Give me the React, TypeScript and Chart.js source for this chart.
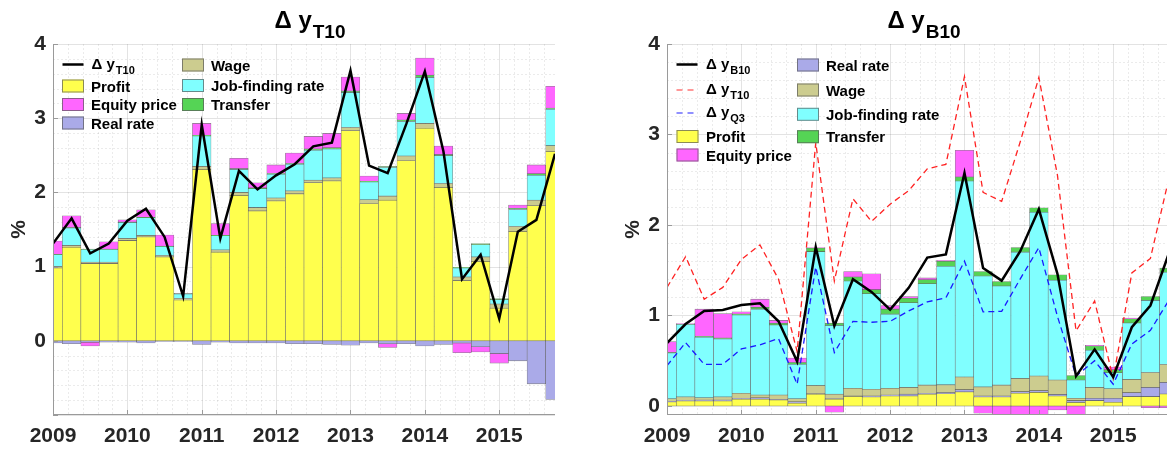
import React, { useEffect, useRef } from 'react';
import { Chart, registerables } from 'chart.js';

Chart.register(...registerables);

// ---------- data ----------
const quarters = [
  2009.0, 2009.25, 2009.5, 2009.75, 2010.0, 2010.25, 2010.5, 2010.75,
  2011.0, 2011.25, 2011.5, 2011.75, 2012.0, 2012.25, 2012.5, 2012.75,
  2013.0, 2013.25, 2013.5, 2013.75, 2014.0, 2014.25, 2014.5, 2014.75,
  2015.0, 2015.25, 2015.5, 2015.75,
];
const yearTicks = [2009, 2010, 2011, 2012, 2013, 2014, 2015];

// Left panel: Δy T10
const lineT10 = [1.31, 1.65, 1.18, 1.31, 1.62, 1.78, 1.40, 0.60, 2.91, 1.38, 2.29, 2.04, 2.23, 2.38, 2.62, 2.67, 3.64, 2.36, 2.26, 2.92, 3.63, 2.55, 0.83, 1.16, 0.30, 1.47, 1.63, 2.52];
const profitT = [0.98, 1.26, 1.04, 1.04, 1.35, 1.40, 1.13, 0.55, 2.31, 1.195, 1.96, 1.75, 1.885, 1.98, 2.13, 2.155, 2.83, 1.85, 1.895, 2.43, 2.865, 2.065, 0.81, 1.07, 0.44, 1.475, 1.82, 2.55];
const realT = [-0.03, -0.04, -0.02, -0.02, -0.02, -0.03, -0.01, -0.01, -0.05, -0.02, -0.03, -0.03, -0.03, -0.04, -0.04, -0.05, -0.06, -0.03, -0.04, -0.04, -0.07, -0.05, -0.03, -0.08, -0.17, -0.27, -0.58, -0.79];
const wageT = [0.02, 0.025, 0.02, 0.02, 0.03, 0.02, 0.02, 0.02, 0.04, 0.03, 0.04, 0.045, 0.04, 0.04, 0.035, 0.04, 0.045, 0.05, 0.055, 0.06, 0.065, 0.055, 0.05, 0.06, 0.055, 0.065, 0.075, 0.08];
const jfT = [0.16, 0.235, 0.17, 0.17, 0.215, 0.24, 0.12, 0.06, 0.41, 0.19, 0.31, 0.255, 0.32, 0.36, 0.405, 0.39, 0.47, 0.24, 0.385, 0.465, 0.62, 0.375, 0.12, 0.165, 0.06, 0.23, 0.335, 0.49];
const transferT = [0.005, 0.005, 0.005, 0.005, 0.005, 0.005, 0.005, 0.005, 0.01, 0.005, 0.01, 0.01, 0.01, 0.01, 0.015, 0.015, 0.02, 0.01, 0.015, 0.02, 0.03, 0.015, 0.01, 0.015, 0.015, 0.015, 0.02, 0.015];
const equityT = [0.18, 0.16, -0.05, 0.10, 0.03, 0.10, 0.15, 0.005, 0.16, 0.16, 0.14, 0.07, 0.115, 0.14, 0.17, 0.195, 0.19, 0.07, -0.05, 0.09, 0.23, 0.115, -0.13, -0.07, -0.13, 0.045, 0.12, 0.295];

// Right panel: Δy B10
const lineB10 = [0.695, 0.905, 1.05, 1.06, 1.115, 1.135, 0.935, 0.49, 1.755, 0.885, 1.40, 1.26, 1.065, 1.305, 1.64, 1.675, 2.575, 1.525, 1.385, 1.71, 2.175, 1.46, 0.33, 0.625, 0.32, 0.87, 1.11, 1.69];
const lineQ3 = [0.445, 0.70, 0.46, 0.46, 0.63, 0.675, 0.745, 0.24, 1.535, 0.59, 0.935, 0.925, 0.935, 1.05, 1.15, 1.195, 1.60, 1.04, 1.045, 1.405, 1.75, 0.99, 0.33, 0.50, 0.24, 0.685, 0.835, 1.17];
const profitB = [0.045, 0.055, 0.055, 0.055, 0.075, 0.075, 0.065, 0.03, 0.13, 0.075, 0.105, 0.10, 0.11, 0.11, 0.13, 0.135, 0.155, 0.10, 0.10, 0.14, 0.15, 0.11, 0.037, 0.059, 0.04, 0.103, 0.103, 0.132];
const realB = [0.005, 0.005, 0.01, 0.01, 0.01, 0.015, 0.005, 0.015, 0.005, 0.005, 0.005, 0.01, 0.01, 0.02, 0.01, 0.013, 0.025, 0.01, 0.01, 0.018, 0.019, 0.018, 0.022, 0.025, 0.044, 0.044, 0.102, 0.128];
const wageB = [0.03, 0.04, 0.025, 0.035, 0.055, 0.03, 0.05, 0.035, 0.09, 0.05, 0.085, 0.075, 0.075, 0.075, 0.09, 0.085, 0.14, 0.10, 0.12, 0.146, 0.161, 0.158, 0.025, 0.121, 0.106, 0.146, 0.165, 0.198];
const jfB = [0.505, 0.80, 0.67, 0.64, 0.865, 0.95, 0.775, 0.38, 1.48, 0.76, 1.185, 1.055, 0.82, 0.935, 1.12, 1.31, 2.165, 1.225, 1.095, 1.396, 1.81, 1.104, 0.202, 0.411, 0.177, 0.624, 0.796, 1.02];
const transferB = [0.005, 0.005, 0.01, 0.01, 0.01, 0.02, 0.02, 0.02, 0.04, 0.025, 0.045, 0.045, 0.055, 0.05, 0.045, 0.055, 0.045, 0.05, 0.05, 0.05, 0.05, 0.06, 0.051, 0.048, 0.033, 0.047, 0.044, 0.045];
const equityB = [0.12, 0.005, 0.30, 0.27, 0.025, 0.09, 0.03, 0.05, 0.005, -0.07, 0.06, 0.175, 0.04, 0.02, 0.02, 0.01, 0.295, -0.08, -0.13, -0.14, -0.14, -0.045, -0.12, 0.005, 0.03, 0.007, -0.02, -0.02];

// ---------- styles ----------
const FONT = '"Liberation Sans", Arial, Helvetica, sans-serif';
const C_PROFIT = '#FFFF4D';
const C_EQUITY = '#FF66FF';
const C_REAL = '#AAAAE8';
const C_WAGE = '#CCCC8F';
const C_JF = '#80FFFF';
const C_TRANSFER = '#55D455';
const C_EDGE = 'rgba(60,60,60,0.65)';

type LineSpec = { label: string; values: number[]; color: string; width: number; dash?: number[] };
type BarSpec = { label: string; values: number[]; color: string };
type LegendItem = { kind: 'line' | 'box'; color: string; dash?: number[]; width?: number; main: string; sub?: string; x: number; y: number; tx: number };

type PanelCfg = {
  titleSub: string;
  yMin: number;
  yMax: number;
  lines: LineSpec[];
  bars: BarSpec[];
  legend: LegendItem[];
};

function decorPlugin(cfg: PanelCfg) {
  return {
    id: 'decor',
    beforeDatasetsDraw(chart: any) {
      const ctx = chart.ctx;
      const a = chart.chartArea;
      const xs = chart.scales.x;
      const ys = chart.scales.y;
      ctx.save();
      for (let k = 0; k <= 40; k++) {
        const v = 2009 + k * 0.2;
        if (v > 2015.76) break;
        const px = Math.round(xs.getPixelForValue(v)) + 0.5;
        const major = Math.abs(v - Math.round(v)) < 1e-6;
        ctx.beginPath();
        ctx.strokeStyle = major ? 'rgba(0,0,0,0.11)' : 'rgba(0,0,0,0.08)';
        ctx.setLineDash(major ? [] : [2, 2]);
        ctx.lineWidth = 1;
        ctx.moveTo(px, a.top);
        ctx.lineTo(px, a.bottom);
        ctx.stroke();
      }
      const start = Math.ceil(cfg.yMin / 0.2 - 1e-6);
      const end = Math.floor(cfg.yMax / 0.2 + 1e-6);
      for (let k = start; k <= end; k++) {
        const v = k * 0.2;
        const py = Math.round(ys.getPixelForValue(v)) + 0.5;
        const major = k % 5 === 0;
        ctx.beginPath();
        ctx.strokeStyle = major ? 'rgba(0,0,0,0.11)' : 'rgba(0,0,0,0.08)';
        ctx.setLineDash(major ? [] : [2, 2]);
        ctx.moveTo(a.left, py);
        ctx.lineTo(a.right, py);
        ctx.stroke();
      }
      ctx.restore();
    },
    afterDatasetsDraw(chart: any) {
      const ctx = chart.ctx;
      const a = chart.chartArea;
      const xs = chart.scales.x;
      const ys = chart.scales.y;
      ctx.save();
      ctx.setLineDash([]);
      ctx.strokeStyle = '#9a9a9a';
      ctx.lineWidth = 1;
      ctx.beginPath();
      ctx.moveTo(Math.round(a.left) + 0.5, a.top);
      ctx.lineTo(Math.round(a.left) + 0.5, a.bottom);
      ctx.moveTo(a.left, Math.round(a.bottom) - 0.5);
      ctx.lineTo(a.right, Math.round(a.bottom) - 0.5);
      ctx.stroke();
      ctx.beginPath();
      for (const yr of yearTicks) {
        const px = Math.round(xs.getPixelForValue(yr)) + 0.5;
        ctx.moveTo(px, a.bottom);
        ctx.lineTo(px, a.bottom - 5);
      }
      for (let v = Math.ceil(cfg.yMin); v <= cfg.yMax; v++) {
        const py = Math.round(ys.getPixelForValue(v)) + 0.5;
        ctx.moveTo(a.left, py);
        ctx.lineTo(a.left + 5, py);
      }
      ctx.stroke();

      for (const it of cfg.legend) {
        if (it.kind === 'line') {
          ctx.beginPath();
          ctx.strokeStyle = it.color;
          ctx.lineWidth = it.width || 2;
          ctx.setLineDash(it.dash || []);
          ctx.moveTo(it.x, it.y);
          ctx.lineTo(it.x + 21, it.y);
          ctx.stroke();
          ctx.setLineDash([]);
        } else {
          ctx.fillStyle = it.color;
          ctx.fillRect(it.x, it.y - 6.5, 22, 13);
          ctx.strokeStyle = 'rgba(90,90,90,0.7)';
          ctx.lineWidth = 1;
          ctx.strokeRect(it.x + 0.5, it.y - 6, 21, 12);
        }
        ctx.fillStyle = '#000';
        ctx.textAlign = 'left';
        ctx.textBaseline = 'alphabetic';
        ctx.font = `bold 15px ${FONT}`;
        if (it.sub) {
          ctx.fillText(it.main, it.tx, it.y + 4);
          const w = ctx.measureText(it.main).width;
          ctx.font = `bold 11px ${FONT}`;
          ctx.fillText(it.sub, it.tx + w + 1, it.y + 9);
        } else {
          ctx.fillText(it.main, it.tx, it.y + 5.5);
        }
      }
      ctx.restore();
    },
    afterDraw(chart: any) {
      const ctx = chart.ctx;
      const a = chart.chartArea;
      ctx.save();
      const main = 'Δ y';
      const mainFont = `bold 24px ${FONT}`;
      const subFont = `bold 19px ${FONT}`;
      ctx.font = mainFont;
      const w1 = ctx.measureText(main).width;
      ctx.font = subFont;
      const w2 = ctx.measureText(cfg.titleSub).width;
      const cx = (a.left + a.right) / 2 + 6;
      const x0 = cx - (w1 + w2 + 1) / 2;
      ctx.fillStyle = '#000';
      ctx.textAlign = 'left';
      ctx.textBaseline = 'alphabetic';
      ctx.font = mainFont;
      ctx.fillText(main, x0, 28);
      ctx.font = subFont;
      ctx.fillText(cfg.titleSub, x0 + w1 + 1, 38);
      ctx.translate(19, (a.top + a.bottom) / 2);
      ctx.rotate(-Math.PI / 2);
      ctx.textAlign = 'center';
      ctx.textBaseline = 'middle';
      ctx.fillStyle = '#262626';
      ctx.font = `bold 21px ${FONT}`;
      ctx.fillText('%', 0, 0);
      ctx.restore();
    },
  };
}

function makeConfig(cfg: PanelCfg): any {
  const datasets: any[] = [
    ...cfg.lines.map((l) => ({
      type: 'line',
      label: l.label,
      data: l.values.map((v, i) => ({ x: quarters[i], y: v })),
      borderColor: l.color,
      borderWidth: l.width,
      borderDash: l.dash || [],
      pointRadius: 0,
      tension: 0,
      fill: false,
      yAxisID: 'yl',
      order: 0,
    })),
    ...cfg.bars.map((b) => ({
      type: 'bar',
      label: b.label,
      data: b.values.map((v, i) => ({ x: quarters[i], y: v })),
      backgroundColor: b.color,
      borderColor: C_EDGE,
      borderWidth: 0.6,
      borderSkipped: false,
      barPercentage: 1,
      categoryPercentage: 1,
      clip: 0,
      yAxisID: 'y',
      order: 1,
    })),
  ];
  const tickFont = { family: FONT, size: 21, weight: 'bold' };
  return {
    type: 'bar',
    data: { datasets },
    options: {
      animation: false,
      responsive: false,
      maintainAspectRatio: false,
      events: [],
      layout: { padding: { left: 0, right: 59, top: 44, bottom: 0 } },
      plugins: { legend: { display: false }, title: { display: false }, tooltip: { enabled: false } },
      scales: {
        x: {
          type: 'linear',
          min: 2009,
          max: 2015.75,
          offset: false,
          stacked: true,
          grid: { display: false, drawTicks: false },
          border: { display: false },
          ticks: {
            stepSize: 1,
            includeBounds: false,
            autoSkip: false,
            maxRotation: 0,
            minRotation: 0,
            padding: 9,
            color: '#262626',
            font: tickFont,
            callback: (v: number) => (Number.isInteger(v) ? String(v) : ''),
          },
          afterFit: (s: any) => {
            s.height = 34;
          },
        },
        y: {
          type: 'linear',
          min: cfg.yMin,
          max: cfg.yMax,
          stacked: true,
          grid: { display: false, drawTicks: false },
          border: { display: false },
          ticks: {
            stepSize: 1,
            includeBounds: false,
            padding: 7,
            color: '#262626',
            font: tickFont,
            callback: (v: number) => (Number.isInteger(v) && v >= 0 ? String(v) : ''),
          },
          afterFit: (s: any) => {
            s.width = 53;
          },
        },
        yl: { type: 'linear', display: false, min: cfg.yMin, max: cfg.yMax, stacked: false },
      },
    },
    plugins: [decorPlugin(cfg)],
  };
}

const leftCfg: PanelCfg = {
  titleSub: 'T10',
  yMin: -1,
  yMax: 4,
  lines: [{ label: 'Δ y T10', values: lineT10, color: '#000000', width: 2.5 }],
  bars: [
    { label: 'Profit', values: profitT, color: C_PROFIT },
    { label: 'Real rate', values: realT, color: C_REAL },
    { label: 'Wage', values: wageT, color: C_WAGE },
    { label: 'Job-finding rate', values: jfT, color: C_JF },
    { label: 'Transfer', values: transferT, color: C_TRANSFER },
    { label: 'Equity price', values: equityT, color: C_EQUITY },
  ],
  legend: [
    { kind: 'line', color: '#000', width: 2.5, main: 'Δ y', sub: 'T10', x: 62.5, y: 64.5, tx: 91.5 },
    { kind: 'box', color: C_PROFIT, main: 'Profit', x: 62, y: 86, tx: 91 },
    { kind: 'box', color: C_EQUITY, main: 'Equity price', x: 62, y: 104.5, tx: 91 },
    { kind: 'box', color: C_REAL, main: 'Real rate', x: 62, y: 123, tx: 91 },
    { kind: 'box', color: C_WAGE, main: 'Wage', x: 182, y: 65, tx: 211 },
    { kind: 'box', color: C_JF, main: 'Job-finding rate', x: 182, y: 85.5, tx: 211 },
    { kind: 'box', color: C_TRANSFER, main: 'Transfer', x: 182, y: 104.5, tx: 211 },
  ],
};

const rightCfg: PanelCfg = {
  titleSub: 'B10',
  yMin: -0.1,
  yMax: 4,
  lines: [
    { label: 'Δ y B10', values: lineB10, color: '#000000', width: 2.5 },
    { label: 'Δ y Q3', values: lineQ3, color: '#1a1aff', width: 1.3, dash: [6, 4] },
    { label: 'Δ y T10', values: lineT10, color: '#ff2222', width: 1.3, dash: [6, 4] },
  ],
  bars: [
    { label: 'Profit', values: profitB, color: C_PROFIT },
    { label: 'Real rate', values: realB, color: C_REAL },
    { label: 'Wage', values: wageB, color: C_WAGE },
    { label: 'Job-finding rate', values: jfB, color: C_JF },
    { label: 'Transfer', values: transferB, color: C_TRANSFER },
    { label: 'Equity price', values: equityB, color: C_EQUITY },
  ],
  legend: [
    { kind: 'line', color: '#000', width: 2.5, main: 'Δ y', sub: 'B10', x: 62.5, y: 64.5, tx: 92 },
    { kind: 'line', color: '#ff3333', width: 1.2, dash: [6, 5], main: 'Δ y', sub: 'T10', x: 62.5, y: 90, tx: 92 },
    { kind: 'line', color: '#2222ff', width: 1.2, dash: [6, 5], main: 'Δ y', sub: 'Q3', x: 62.5, y: 113, tx: 92 },
    { kind: 'box', color: C_PROFIT, main: 'Profit', x: 62.5, y: 136.5, tx: 92 },
    { kind: 'box', color: C_EQUITY, main: 'Equity price', x: 62.5, y: 155, tx: 92 },
    { kind: 'box', color: C_REAL, main: 'Real rate', x: 183, y: 65, tx: 212 },
    { kind: 'box', color: C_WAGE, main: 'Wage', x: 183, y: 90, tx: 212 },
    { kind: 'box', color: C_JF, main: 'Job-finding rate', x: 183, y: 114.3, tx: 212 },
    { kind: 'box', color: C_TRANSFER, main: 'Transfer', x: 183, y: 136.7, tx: 212 },
  ],
};

function Panel({ cfg, left }: { cfg: PanelCfg; left: number }) {
  const ref = useRef<HTMLCanvasElement | null>(null);
  useEffect(() => {
    if (!ref.current) return;
    const chart = new Chart(ref.current, makeConfig(cfg));
    return () => chart.destroy();
  }, [cfg]);
  return (
    <canvas
      ref={ref}
      width={614}
      height={449}
      style={{ position: 'absolute', left, top: 0, width: 614, height: 449, display: 'block' }}
    />
  );
}

export default function App() {
  return (
    <div
      style={{
        position: 'absolute',
        left: 0,
        top: 0,
        width: 1167,
        height: 449,
        overflow: 'hidden',
        background: '#ffffff',
      }}
    >
      <Panel cfg={leftCfg} left={0} />
      <Panel cfg={rightCfg} left={614} />
    </div>
  );
}
